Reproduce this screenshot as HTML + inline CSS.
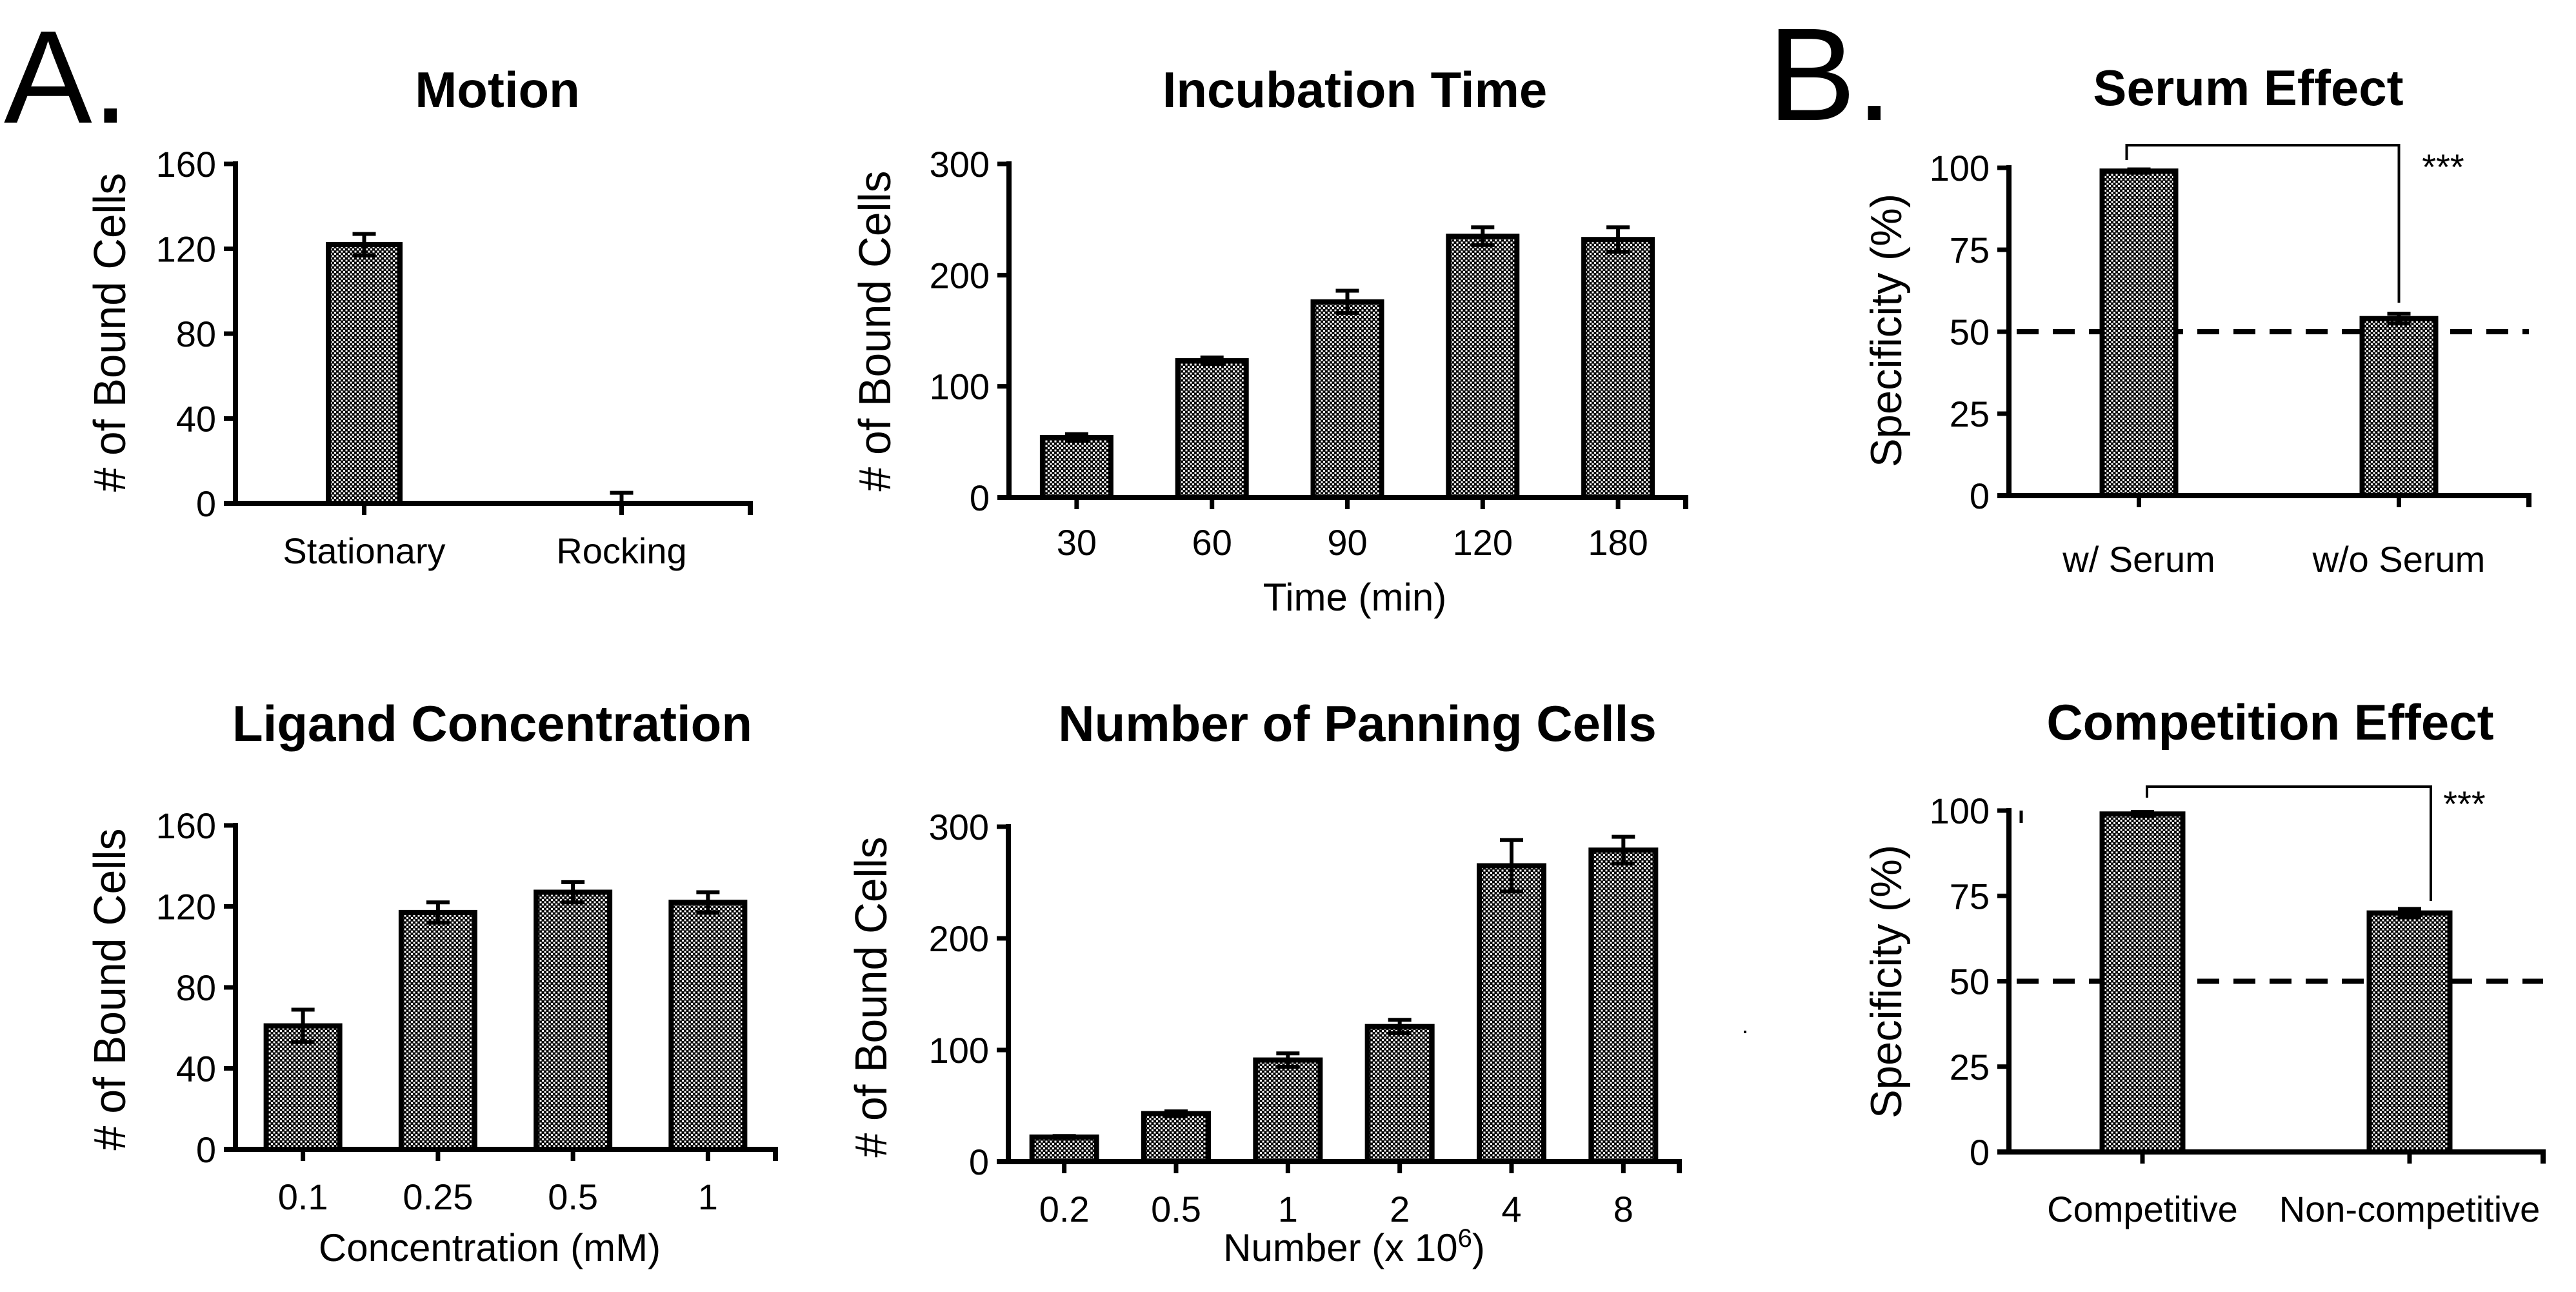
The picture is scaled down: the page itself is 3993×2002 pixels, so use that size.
<!DOCTYPE html>
<html><head><meta charset="utf-8"><style>
html,body{margin:0;padding:0;background:#fff}
svg{display:block}
text{font-family:"Liberation Sans",Arial,sans-serif;fill:#000}
</style></head><body>
<svg id="fig" width="3993" height="2002" viewBox="0 0 3993 2002" xmlns="http://www.w3.org/2000/svg">
<defs>
<pattern id="chk" width="7" height="7" patternUnits="userSpaceOnUse">
<rect width="7" height="7" fill="#000"/><rect x="0" y="0" width="3" height="3" fill="#fff"/><rect x="3.5" y="3.5" width="3" height="3" fill="#fff"/>
</pattern>
</defs>
<text x="6" y="190" font-size="205">A.</text>
<text x="2740" y="186" font-size="205">B.</text>
<rect x="2703" y="1597" width="4" height="4" fill="#000"/>
</svg>
<script>
// ---- data ----
const motionCats=["Stationary","Rocking"];
const motionVals=[122,0];
const motionErr=[5,5];
const motionTicks=[0,40,80,120,160];

const incCats=["30","60","90","120","180"];
const incVals=[54,123,176,235,232];
const incErr=[3,3,10,8,11];
const incTicks=[0,100,200,300];

const ligCats=["0.1","0.25","0.5","1"];
const ligVals=[61,117,127,122];
const ligErr=[8,5,5,5];
const ligTicks=[0,40,80,120,160];

const numCats=["0.2","0.5","1","2","4","8"];
const numVals=[22,43,91,121,265,279];
const numErr=[1,2,6,6,23,12];
const numTicks=[0,100,200,300];

const serCats=["w/ Serum","w/o Serum"];
const serVals=[99,54];
const serErr=[0.5,1.5];
const serTicks=[0,25,50,75,100];

const compCats=["Competitive","Non-competitive"];
const compVals=[99,70];
const compErr=[0.6,1.2];
const compTicks=[0,25,50,75,100];

const svg=document.getElementById('fig');
const NS="http://www.w3.org/2000/svg";
function mk(tag,attrs,parent){const e=document.createElementNS(NS,tag);for(const k in attrs)e.setAttribute(k,attrs[k]);(parent||svg).appendChild(e);return e;}
function txt(s,attrs,parent){const e=mk('text',attrs,parent);e.textContent=s;return e;}

function chart(c,cats,vals,errs,ticks){
  const g=mk('g',{});
  
  
  const ymax=ticks[ticks.length-1];
  const y=v=>c.y0-(v/ymax)*(c.y0-c.yTop);
  const n=cats.length;
  const step=(c.xEnd-c.x0)/n;
  const xc=i=>c.x0+step*(i+0.5);
  const t=txt(c.title,{x:c.titleX,y:c.titleY,'font-size':c.titleSize,'font-weight':'bold','text-anchor':'middle'},g);
  
  
  const yt=txt(c.ytitle,{x:0,y:0,'font-size':c.ytSize,'text-anchor':'middle',transform:`translate(${c.ytX},${c.ytY}) rotate(-90)`,textLength:c.ytLen,lengthAdjust:'spacingAndGlyphs'},g);
  
  
  if(c.dash!==undefined){
    const d=mk('line',{x1:c.x0+12,x2:c.xEnd,y1:y(c.dash),y2:y(c.dash),stroke:'#000','stroke-width':8,'stroke-dasharray':'34 22'},g);
    
    
  }
  cats.forEach((cat,i)=>{
    const v=vals[i],e=errs[i];
    if(v>0){
      const b=mk('rect',{x:xc(i)-c.bw/2,y:y(v),width:c.bw,height:c.y0-y(v),fill:'url(#chk)',stroke:'#000','stroke-width':8},g);
      
      
    }
    const eb=mk('path',{d:`M${xc(i)},${y(v)}V${y(v+e)}M${xc(i)-18},${y(v+e)}H${xc(i)+18}`+(v>0?`M${xc(i)},${y(v)}V${y(v-e)}M${xc(i)-18},${y(v-e)}H${xc(i)+18}`:''),stroke:'#000','stroke-width':6,fill:'none'},g);
    
    
    const tk=mk('line',{x1:xc(i),x2:xc(i),y1:c.y0,y2:c.y0+18,stroke:'#000','stroke-width':7},g);
    
    
    const lb=txt(cat,{x:xc(i),y:c.labY,'font-size':c.labSize,'text-anchor':'middle'},g);
    
    
  });
  const ax=mk('path',{d:`M${c.x0},${c.yTop-4}V${c.y0}M${c.x0-18},${c.y0}H${c.xEnd}V${c.y0+18}`,stroke:'#000','stroke-width':8,fill:'none'},g);
  
  
  ticks.forEach(tv=>{
    const l=mk('line',{x1:c.x0-18,x2:c.x0,y1:y(tv),y2:y(tv),stroke:'#000','stroke-width':7},g);
    
    
    const tl=txt(String(tv),{x:c.x0-30,y:y(tv)+20,'font-size':c.tickSize,'text-anchor':'end'},g);
    
    
  });
  if(c.xtitle){
    const xt=txt(c.xtitle,{x:c.xtX,y:c.xtY,'font-size':c.labSize+4,'text-anchor':'middle'},g);
    
    
    if(c.sup){const ts=mk('tspan',{'baseline-shift':'super','font-size':(c.labSize-16)},xt);ts.textContent=c.sup;const t2=mk('tspan',{},xt);t2.textContent=')';}
  }
  if(c.bracket){
    const br=c.bracket;
    const p=mk('path',{d:`M${xc(0)-br.l},${br.yl}V${br.y}H${xc(1)+br.r}V${br.yr}`,stroke:'#000','stroke-width':4,fill:'none'},g);
    
    
    const s=txt('***',{x:br.sx,y:br.sy,'font-size':56,'text-anchor':'middle'},g);
    
    
  }
  return g;
}

chart({name:'chart-motion',title:'Motion',titleX:771,titleY:166,titleSize:78,x0:365,xEnd:1163,yTop:254,y0:780,bw:111,ytitle:'# of Bound Cells',ytX:194,ytY:515,ytSize:70,ytLen:494,tickSize:56,labSize:56,labY:873},motionCats,motionVals,motionErr,motionTicks);
chart({name:'chart-incubation-time',title:'Incubation Time',titleX:2100,titleY:166,titleSize:78,x0:1564,xEnd:2613,yTop:254,y0:771,bw:106,ytitle:'# of Bound Cells',ytX:1380,ytY:513,ytSize:70,ytLen:497,tickSize:56,labSize:56,labY:860,xtitle:'Time (min)',xtX:2100,xtY:946},incCats,incVals,incErr,incTicks);
chart({name:'chart-ligand-concentration',title:'Ligand Concentration',titleX:763,titleY:1148,titleSize:78,x0:365,xEnd:1202,yTop:1279,y0:1781,bw:114,ytitle:'# of Bound Cells',ytX:194,ytY:1533,ytSize:70,ytLen:499,tickSize:56,labSize:56,labY:1874,xtitle:'Concentration (mM)',xtX:759,xtY:1954},ligCats,ligVals,ligErr,ligTicks);
chart({name:'chart-panning-cells',title:'Number of Panning Cells',titleX:2104,titleY:1148,titleSize:78,x0:1563,xEnd:2603,yTop:1281,y0:1800,bw:100,ytitle:'# of Bound Cells',ytX:1374,ytY:1545,ytSize:70,ytLen:497,tickSize:56,labSize:56,labY:1893,xtitle:'Number (x 10',sup:'6',xtX:2099,xtY:1954},numCats,numVals,numErr,numTicks);
chart({name:'chart-serum-effect',title:'Serum Effect',titleX:3485,titleY:163,titleSize:78,x0:3114,xEnd:3920,yTop:260,y0:768,bw:114,ytitle:'Specificity (%)',ytX:2947,ytY:512,ytSize:68,ytLen:424,tickSize:56,labSize:56,labY:886,dash:50,bracket:{y:225,yl:248,yr:469,l:19,r:0,sx:3787,sy:278}},serCats,serVals,serErr,serTicks);
chart({name:'chart-competition-effect',title:'Competition Effect',titleX:3519,titleY:1146,titleSize:78,x0:3114,xEnd:3942,yTop:1256,y0:1785,bw:125,ytitle:'Specificity (%)',ytX:2947,ytY:1521,ytSize:68,ytLen:424,tickSize:56,labSize:56,labY:1893,dash:50,bracket:{y:1219,yl:1236,yr:1396,l:-7,r:33,sx:3820,sy:1265}},compCats,compVals,compErr,compTicks);
const mark=mk('line',{x1:3133,x2:3133,y1:1256,y2:1275,stroke:'#000','stroke-width':5});


</script>
</body></html>
